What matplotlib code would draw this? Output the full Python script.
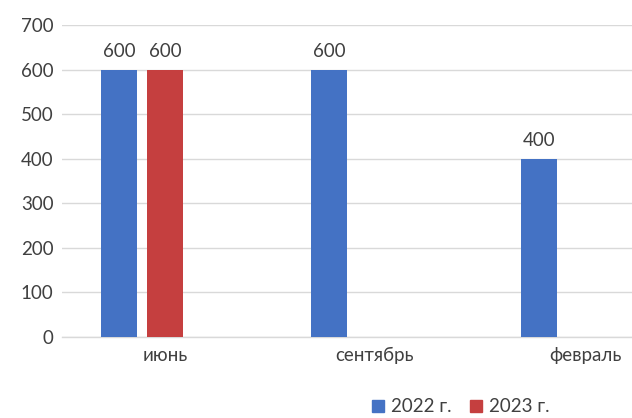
import numpy as np
import matplotlib
matplotlib.use("Agg")
import matplotlib.pyplot as plt
from matplotlib.patches import Rectangle

plt.rcParams['font.family'] = ['Lato', 'DejaVu Sans']

# Data
categories = ["июнь", "сентябрь", "февраль"]
series_names = ["2022 г.", "2023 г."]
values_2022 = [600, 600, 400]
values_2023 = [600, np.nan, np.nan]
y_ticks = [0, 100, 200, 300, 400, 500, 600, 700]

colors = ["#4472c4", "#c53f3f"]
text_color = "#404040"
grid_color = "#d9d9d9"
fs = 13.5

fig = plt.figure(figsize=(6.32, 4.18), dpi=100)
ax = fig.add_axes([62 / 632, 1 - 337 / 418, 1 - 62 / 632, (337 - 25) / 418])

x = np.arange(len(categories))
bar_w = 36 / 210
step = 46 / 210
# three slots per category; the last slot stays empty
offsets = [-step, 0.0]

for vals, off, col in zip([values_2022, values_2023], offsets, colors):
    v = np.array(vals, dtype=float)
    mask = ~np.isnan(v)
    ax.bar(x[mask] + off, v[mask], width=bar_w, color=col, zorder=3)
    for xi, vi in zip(x[mask] + off, v[mask]):
        ax.text(xi, vi + 22, f"{vi:.0f}", ha="center", va="bottom",
                fontsize=fs, color=text_color, zorder=4)

ax.set_ylim(0, 700)
ax.set_xlim(-103 / 210, (632 - 165) / 210)
ax.set_yticks(y_ticks)
ax.set_yticklabels([str(t) for t in y_ticks])
ax.set_xticks(x)
ax.set_xticklabels(categories)
ax.tick_params(axis="y", length=0, pad=6, labelsize=fs, labelcolor=text_color)
ax.tick_params(axis="x", length=0, pad=7, labelsize=fs, labelcolor=text_color)

ax.grid(axis="y", color=grid_color, linewidth=1, zorder=0)
for s in ["top", "right", "left"]:
    ax.spines[s].set_visible(False)
ax.spines["bottom"].set_color(grid_color)
ax.spines["bottom"].set_linewidth(1)

# Legend
handles = [Rectangle((0, 0), 1, 1, color=c) for c in colors]
fig.legend(handles, series_names, loc="center", bbox_to_anchor=(461 / 632, 1 - 407 / 418),
           ncol=2, frameon=False, fontsize=fs, labelcolor=text_color,
           handlelength=0.6, handleheight=0.6, handletextpad=0.4, columnspacing=1.0)

fig.savefig("out.png", dpi=100)
